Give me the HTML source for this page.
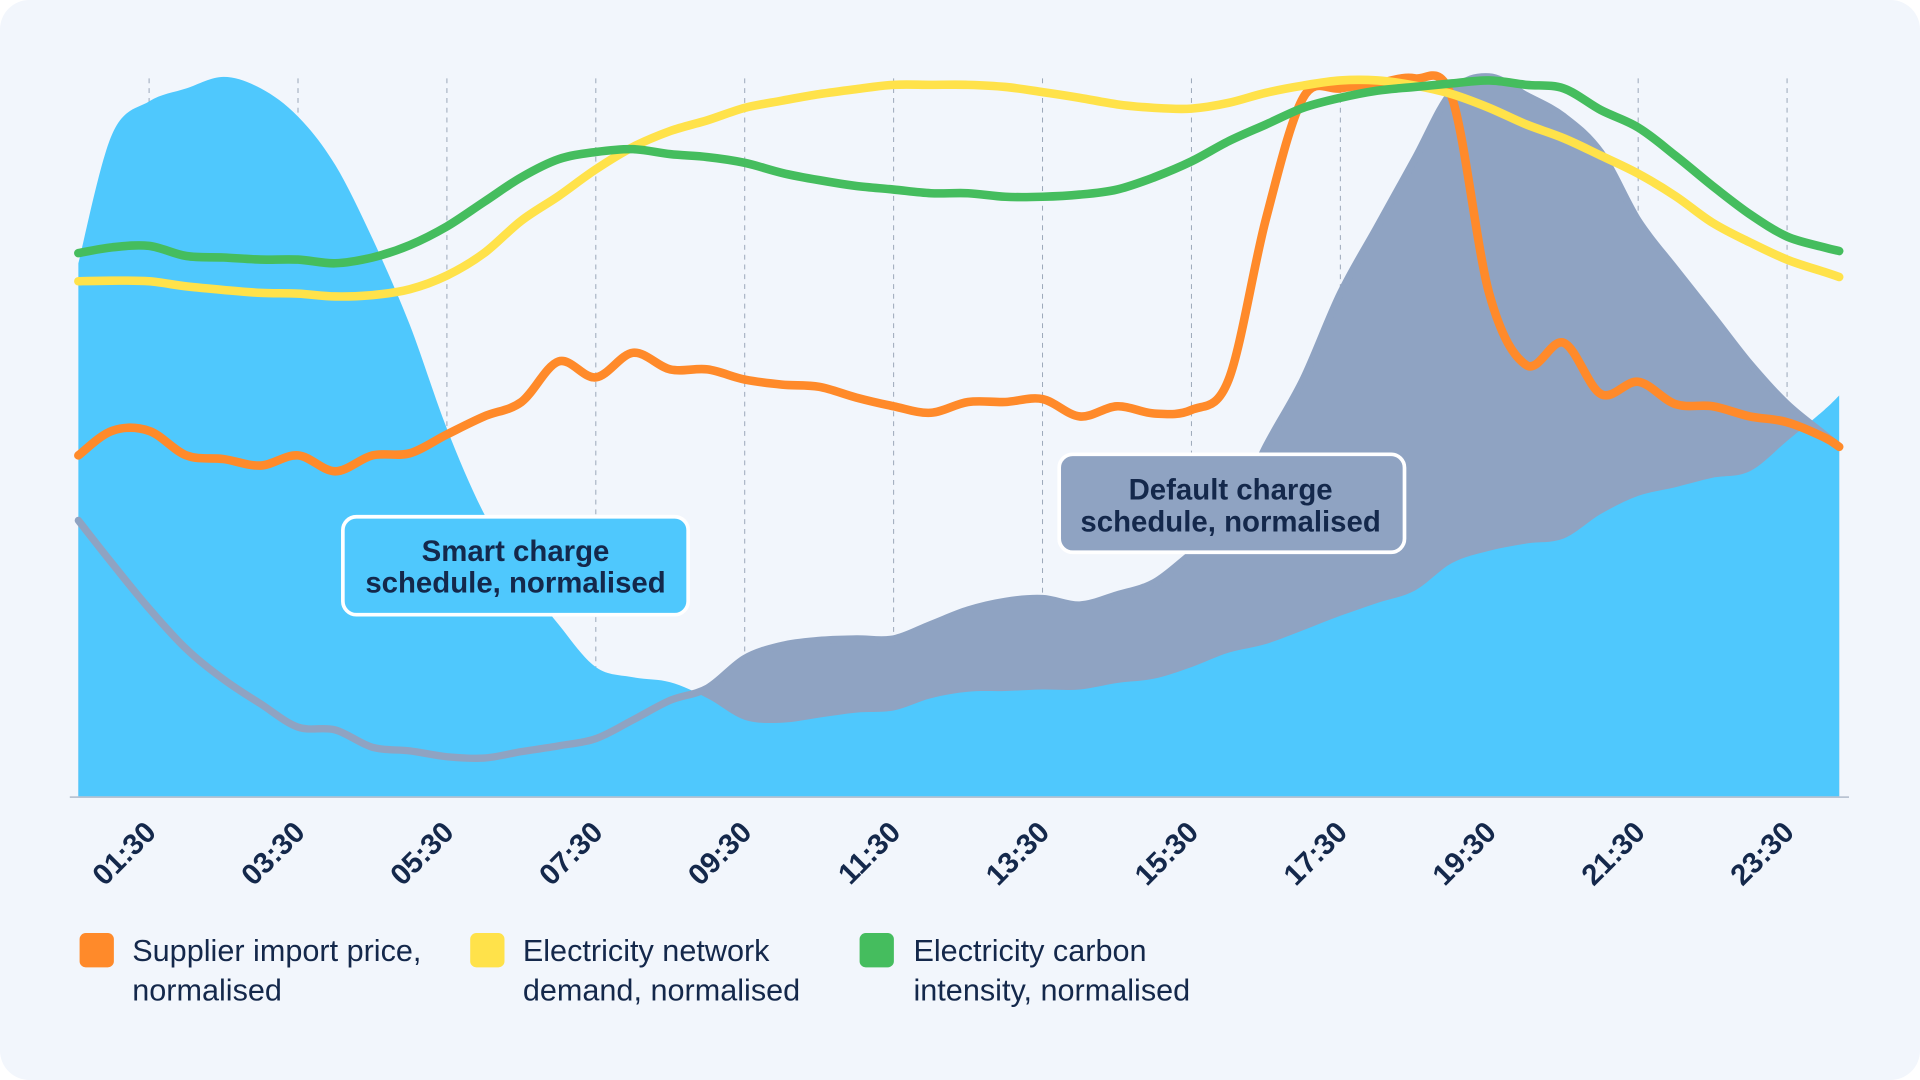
<!DOCTYPE html>
<html><head><meta charset="utf-8">
<style>
html,body{margin:0;padding:0;background:#ffffff;}
#wrap{width:1920px;height:1080px;position:relative;overflow:hidden;}
svg{display:block;}
text{font-family:"Liberation Sans",sans-serif;}
</style></head>
<body>
<div id="wrap">
<svg id="chart" width="1920" height="1080" viewBox="0 0 1568 882" xmlns="http://www.w3.org/2000/svg">
<rect x="0" y="0" width="1568" height="882" rx="24" fill="#f2f6fc"/>
<g id="grid"></g>
<g id="areas"></g>
<line x1="57" y1="651" x2="1510" y2="651" stroke="#b9c3d2" stroke-width="1.5"/>
<g id="lines"></g>
<g id="ticks"></g>

<g>
<rect x="280" y="422" width="282" height="80" rx="11" fill="#4fc8fd" stroke="#ffffff" stroke-width="3"/>
<text x="421" y="458" text-anchor="middle" font-size="24" font-weight="bold" fill="#14284b">Smart charge</text>
<text x="421" y="484" text-anchor="middle" font-size="24" font-weight="bold" fill="#14284b">schedule, normalised</text>
</g>
<g>
<rect x="865" y="371" width="282" height="80" rx="11" fill="#8fa3c2" stroke="#ffffff" stroke-width="3"/>
<text x="1005" y="408" text-anchor="middle" font-size="24" font-weight="bold" fill="#14284b">Default charge</text>
<text x="1005" y="434" text-anchor="middle" font-size="24" font-weight="bold" fill="#14284b">schedule, normalised</text>
</g>

<g>
<g>
<rect x="65" y="762" width="28" height="28" rx="5" fill="#ff8a2a"/>
<text x="108" y="785" font-size="25" fill="#14284b">Supplier import price,</text>
<text x="108" y="817" font-size="25" fill="#14284b">normalised</text>
</g>
<g>
<rect x="384" y="762" width="28" height="28" rx="5" fill="#ffe24a"/>
<text x="427" y="785" font-size="25" fill="#14284b">Electricity network</text>
<text x="427" y="817" font-size="25" fill="#14284b">demand, normalised</text>
</g>
<g>
<rect x="702" y="762" width="28" height="28" rx="5" fill="#45bd5e"/>
<text x="746" y="785" font-size="25" fill="#14284b">Electricity carbon</text>
<text x="746" y="817" font-size="25" fill="#14284b">intensity, normalised</text>
</g>
</g>
</svg>
</div>
<script>
// time of each sample (hours)
const hours = [0.55,1,1.5,2,2.5,3,3.5,4,4.5,5,5.5,6,6.5,7,7.5,8,8.5,9,9.5,10,10.5,11,11.5,12,12.5,13,13.5,14,14.5,15,15.5,16,16.5,17,17.5,18,18.5,19,19.5,20,20.5,21,21.5,22,22.5,23,23.5,24,24.2];
const tickHours = [1.5,3.5,5.5,7.5,9.5,11.5,13.5,15.5,17.5,19.5,21.5,23.5];
const tickLabels = ["01:30","03:30","05:30","07:30","09:30","11:30","13:30","15:30","17:30","19:30","21:30","23:30"];
const smartCharge = [73.9,91.7,96.3,98.1,99.7,98.1,94.2,87.5,77.3,65.4,51.0,39.2,30.7,23.9,18.0,16.6,15.9,13.7,10.7,10.3,11.0,11.7,12.0,13.7,14.6,14.7,14.9,14.9,15.8,16.4,18.0,20.0,21.2,23.1,25.1,26.9,28.6,32.4,34.1,35.1,35.8,39.2,41.7,42.9,44.2,45.1,49.3,53.6,55.6];
const defaultCharge = [38.3,32.4,26.1,20.5,16.3,12.9,9.7,9.3,6.9,6.4,5.6,5.4,6.3,7.1,8.1,10.7,13.4,15.1,19.2,21.0,21.7,21.9,21.9,23.9,25.9,27.1,27.5,26.6,28.0,29.7,33.7,37.8,48.5,57.8,69.7,79.0,88.3,97.6,99.7,97.1,94.2,89.2,79.8,73.1,66.6,60.0,54.4,50.2,48.5];
const importPrice = [47.3,50.7,50.7,47.3,46.8,45.9,47.3,45.1,47.3,47.6,50.2,52.7,54.7,60.3,58.1,61.5,59.2,59.2,57.8,57.1,56.8,55.3,54.1,53.2,54.7,54.7,55.1,52.7,54.1,53.1,53.6,57.8,80.0,96.8,98.1,98.8,99.5,96.8,69.7,59.8,62.9,55.8,57.5,54.4,54.1,52.7,51.9,49.8,48.5];
const networkDemand = [71.4,71.5,71.4,70.7,70.2,69.8,69.7,69.3,69.5,70.3,72.2,75.3,79.8,83.2,86.9,90.0,92.2,93.7,95.4,96.4,97.3,98.0,98.6,98.6,98.6,98.3,97.6,96.8,95.9,95.4,95.3,96.1,97.5,98.5,99.2,99.2,98.5,97.3,95.4,93.1,91.2,88.8,86.3,83.2,79.5,76.8,74.4,72.7,72.0];
const carbonIntensity = [75.3,76.1,76.3,74.9,74.7,74.4,74.4,73.9,74.7,76.4,79.0,82.4,85.8,88.3,89.3,89.7,89.0,88.6,87.8,86.4,85.4,84.6,84.1,83.6,83.6,83.1,83.1,83.4,84.1,85.8,88.0,90.8,93.1,95.4,96.8,97.8,98.3,98.8,99.2,98.6,98.1,95.1,92.7,88.8,84.6,80.7,77.6,76.1,75.6];

const X0=64, X1=1502, H0=0.55, H1=24.2, Y0=651, Y1=61;
function xs(h){return X0+(h-H0)*(X1-X0)/(H1-H0);}
function ys(v){return Y0+(v/100)*(Y1-Y0);}
const NS="http://www.w3.org/2000/svg";
function smooth(vals){
  const p=vals.map((v,i)=>[xs(hours[i]),ys(v)]);
  let d="M"+p[0][0].toFixed(1)+","+p[0][1].toFixed(1);
  for(let i=0;i<p.length-1;i++){
    const a=p[Math.max(0,i-1)],b=p[i],c=p[i+1],e=p[Math.min(p.length-1,i+2)];
    const c1x=b[0]+(c[0]-a[0])/6,c1y=b[1]+(c[1]-a[1])/6;
    const c2x=c[0]-(e[0]-b[0])/6,c2y=c[1]-(e[1]-b[1])/6;
    d+=" C"+c1x.toFixed(1)+","+c1y.toFixed(1)+" "+c2x.toFixed(1)+","+c2y.toFixed(1)+" "+c[0].toFixed(1)+","+c[1].toFixed(1);
  }
  return d;
}
function areaPath(vals){
  return "M"+xs(hours[0])+","+Y0+" L"+smooth(vals).slice(1)+" L"+xs(hours[hours.length-1])+","+Y0+" Z";
}
const grid=document.getElementById('grid');
tickHours.forEach((h,i)=>{
  const l=document.createElementNS(NS,'line');
  
  
  l.setAttribute('x1',xs(h));l.setAttribute('x2',xs(h));
  l.setAttribute('y1',64);l.setAttribute('y2',651);
  l.setAttribute('stroke','#9aa6b8');l.setAttribute('stroke-width','0.8');
  l.setAttribute('stroke-dasharray','4 4');
  grid.appendChild(l);
});
const areas=document.getElementById('areas');
function addArea(vals,color,name){
  const p=document.createElementNS(NS,'path');
  
  
  p.setAttribute('d',areaPath(vals));p.setAttribute('fill',color);
  areas.appendChild(p);
}
addArea(defaultCharge,'#8fa3c2','default-charge-area');
addArea(smartCharge,'#4fc8fd','smart-charge-area');
const lines=document.getElementById('lines');
function addLine(vals,color,w,name){
  const p=document.createElementNS(NS,'path');
  
  
  p.setAttribute('d',smooth(vals));p.setAttribute('fill','none');
  p.setAttribute('stroke',color);p.setAttribute('stroke-width',w);
  p.setAttribute('stroke-linecap','round');p.setAttribute('stroke-linejoin','round');
  lines.appendChild(p);
}
addLine(defaultCharge,'#8fa3c2',6,'default-charge-line');
addLine(importPrice,'#ff8a2a',7,'import-price-line');
addLine(networkDemand,'#ffe24a',7,'network-demand-line');
addLine(carbonIntensity,'#45bd5e',7,'carbon-intensity-line');
const ticks=document.getElementById('ticks');
tickHours.forEach((h,i)=>{
  const t=document.createElementNS(NS,'text');
  
  
  const x=xs(h)+7, y=681;
  t.setAttribute('x',x);t.setAttribute('y',y);
  t.setAttribute('text-anchor','end');
  t.setAttribute('font-size','24');t.setAttribute('font-weight','bold');
  t.setAttribute('fill','#14284b');
  t.setAttribute('transform','rotate(-45 '+x+' '+y+')');
  t.textContent=tickLabels[i];
  ticks.appendChild(t);
});
</script>
</body></html>
